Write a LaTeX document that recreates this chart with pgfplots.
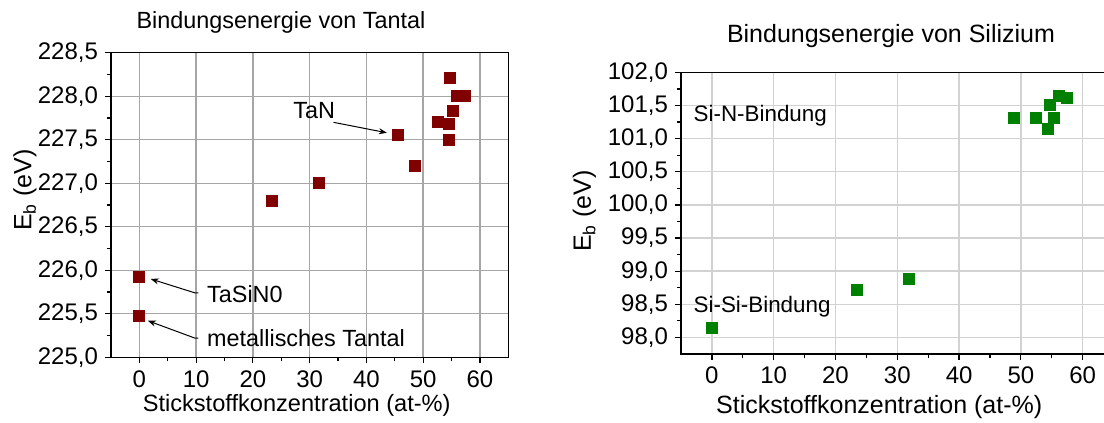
\documentclass[border=0pt]{standalone}
\usepackage{fontspec}
\setmainfont{Liberation Sans}
\usepackage{pgfplots}
\pgfplotsset{compat=1.18}
\usetikzlibrary{arrows.meta}

\definecolor{tantal}{HTML}{800000}
\definecolor{silizium}{HTML}{008000}

\newcommand{\fs}[1]{\fontsize{#1}{#1}\selectfont}

\pgfplotsset{
  bindung/.style={
    scale only axis,
    anchor=south west,
    clip=false,
    xmin=-5, xmax=65,
    xtick={0,10,...,60},
    minor x tick num=1,
    minor y tick num=1,
    tick pos=left,
    tick align=outside,
    major tick length=3pt,
    minor tick length=2pt,
    axis line style={line width=0.6pt},
    every tick/.style={line width=0.6pt, black},
    grid=major,
    tick label style={font=\fs{12}},
    /pgf/number format/assume math mode=true,
    yticklabel style={/pgf/number format/.cd, fixed, fixed zerofill, precision=1, use comma},
    xticklabel style={/pgf/number format/.cd, fixed, precision=0},
  },
}
\tikzset{pfeil/.style={-{Stealth[length=4pt,width=3pt]}, line width=0.5pt, black}}

\begin{document}
\begin{tikzpicture}

% Tantal 4f
\begin{axis}[bindung,
  at={(55.5pt,32.85pt)},
  width=198.65pt, height=152.3pt,
  ymin=225, ymax=228.5,
  ytick={225,225.5,...,228.5},
  major grid style={line width=0.7pt, gray!70},
]
\addplot[only marks, mark=square*, mark size=2.75pt, color=tantal] coordinates {
  (0,225.92) (0,225.48) (23.4,226.80) (31.6,227.00) (45.5,227.56)
  (48.5,227.20) (52.6,227.71) (54.5,227.68) (54.5,227.50) (54.75,228.21)
  (55.3,227.83) (56.0,228.00) (57.4,228.00)
};
\node[font=\fs{11.7}] at (axis cs:30.8,227.84) {TaN};
\draw[pfeil] (axis cs:34.2,227.70) -- (axis cs:43.6,227.58);
\node[font=\fs{11.7}, anchor=west] at (axis cs:10.7,225.73) {TaSiN0};
\draw[pfeil] (axis cs:10.4,225.74) -- (axis cs:9.8,225.74) -- (axis cs:2.0,225.90);
\node[font=\fs{11.7}, anchor=west] at (axis cs:10.7,225.22) {metallisches Tantal};
\draw[pfeil] (axis cs:10.4,225.22) -- (axis cs:9.8,225.22) -- (axis cs:1.5,225.42);
\end{axis}

% Silizium 2p
\begin{axis}[bindung,
  at={(340.5pt,34.5pt)},
  width=216.3pt, height=140.8pt,
  ymin=97.75, ymax=102,
  ytick={98,98.5,...,102},
  major grid style={line width=0.7pt, gray!35},
]
\addplot[only marks, mark=square*, mark size=2.75pt, color=silizium] coordinates {
  (0,98.15) (23.5,98.71) (31.8,98.89) (48.8,101.31) (52.5,101.31)
  (55.4,101.31) (54.3,101.15) (54.7,101.51) (56.1,101.65) (57.4,101.61)
};
\node[font=\fs{11.2}, anchor=west] at (axis cs:-4.1,101.35) {Si-N-Bindung};
\node[font=\fs{11.2}, anchor=west] at (axis cs:-4.1,98.47) {Si-Si-Bindung};
\end{axis}

% Titles and axis labels
\node[font=\fs{11.7}] at (140.5pt,200.5pt) {Bindungsenergie von Tantal};
\node[font=\fs{12.5}] at (445.5pt,193.5pt) {Bindungsenergie von Silizium};
\node[font=\fs{11.8}] at (148.35pt,8.6pt) {Stickstoffkonzentration (at-\%)};
\node[font=\fs{12.5}] at (439.6pt,7.75pt) {Stickstoffkonzentration (at-\%)};
\node[font=\fs{12.5}, rotate=90] at (12.5pt,116.5pt) {E\textsubscript{b} (eV)};
\node[font=\fs{12.5}, rotate=90] at (292.25pt,106pt) {E\textsubscript{b} (eV)};

\pgfresetboundingbox
\useasboundingbox (0,0) rectangle (552pt,211.5pt);
\end{tikzpicture}
\end{document}
